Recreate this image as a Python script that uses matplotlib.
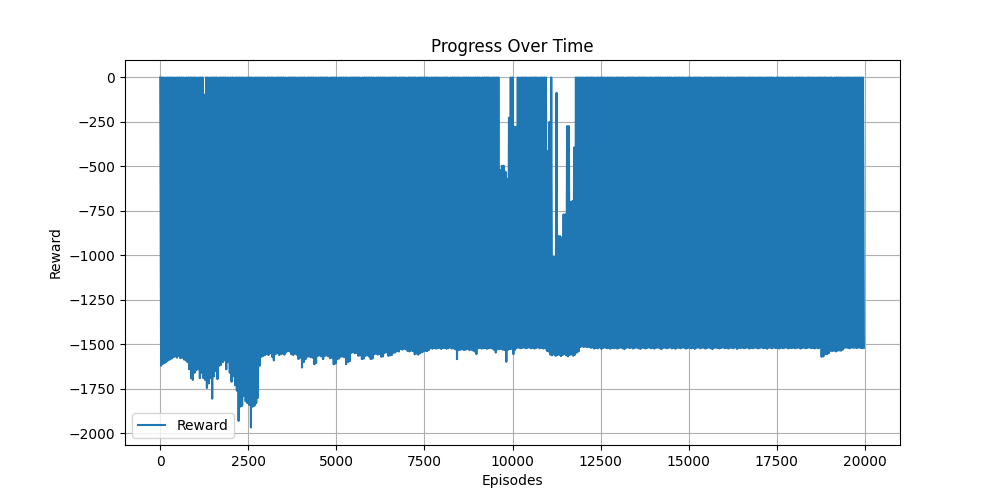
import numpy as np
import matplotlib
matplotlib.use("Agg")
import matplotlib.pyplot as plt

# Episodes are grouped into bins of 50; for each bin the highest and the
# lowest reward.
bin_width = 50

reward_low = [
    -1620, -1610, -1605, -1598, -1590, -1585, -1580, -1572, -1568, -1575, -1565, -1578, -1575, -1585, -1590, -1600, -1640, -1690, -1700, -1660,
    -1645, -1640, -1690, -1660, -1690, -1700, -1745, -1720, -1690, -1805, -1680, -1650, -1695, -1620, -1615, -1600, -1590, -1640, -1600, -1660,
    -1710, -1680, -1730, -1760, -1930, -1850, -1845, -1790, -1820, -1830, -1840, -1967, -1850, -1845, -1830, -1800, -1620, -1570, -1565, -1560,
    -1555, -1560, -1550, -1570, -1590, -1555, -1550, -1560, -1556, -1552, -1558, -1545, -1538, -1540, -1556, -1560, -1552, -1558, -1583, -1575,
    -1630, -1600, -1583, -1570, -1568, -1572, -1575, -1612, -1605, -1565, -1562, -1568, -1583, -1565, -1562, -1568, -1578, -1575, -1612, -1608,
    -1583, -1580, -1570, -1568, -1572, -1612, -1600, -1595, -1548, -1545, -1550, -1548, -1565, -1562, -1583, -1580, -1565, -1562, -1568, -1583,
    -1580, -1556, -1552, -1558, -1555, -1570, -1568, -1548, -1545, -1565, -1562, -1560, -1548, -1545, -1538, -1540, -1527, -1530, -1525, -1528,
    -1538, -1540, -1535, -1538, -1556, -1552, -1558, -1550, -1545, -1540, -1536, -1538, -1532, -1522, -1525, -1520, -1524, -1522, -1520, -1526,
    -1522, -1520, -1525, -1522, -1518, -1524, -1522, -1528, -1583, -1532, -1530, -1528, -1532, -1530, -1526, -1532, -1530, -1534, -1540, -1555,
    -1522, -1520, -1524, -1522, -1520, -1525, -1522, -1520, -1524, -1530, -1546, -1528, -1527, -1525, -1530, -1532, -1598, -1530, -1527, -1525,
    -1555, -1530, -1520, -1518, -1522, -1520, -1518, -1522, -1520, -1518, -1522, -1520, -1524, -1520, -1518, -1522, -1520, -1524, -1522, -1536,
    -1540, -1558, -1562, -1556, -1565, -1560, -1558, -1566, -1560, -1555, -1562, -1568, -1560, -1556, -1564, -1558, -1546, -1540, -1515, -1512,
    -1515, -1513, -1516, -1514, -1520, -1518, -1524, -1520, -1522, -1518, -1526, -1520, -1518, -1522, -1520, -1525, -1519, -1522, -1520, -1524,
    -1520, -1518, -1522, -1527, -1520, -1518, -1521, -1519, -1524, -1520, -1518, -1522, -1526, -1520, -1519, -1523, -1520, -1518, -1522, -1520,
    -1524, -1520, -1518, -1521, -1527, -1520, -1519, -1522, -1520, -1518, -1523, -1520, -1525, -1519, -1520, -1522, -1518, -1520, -1524, -1521,
    -1519, -1522, -1520, -1526, -1520, -1518, -1522, -1520, -1519, -1524, -1520, -1518, -1522, -1527, -1520, -1519, -1521, -1523, -1520, -1518,
    -1522, -1520, -1524, -1519, -1520, -1522, -1518, -1526, -1520, -1521, -1519, -1522, -1520, -1518, -1524, -1520, -1522, -1519, -1520, -1523,
    -1520, -1518, -1522, -1520, -1525, -1519, -1520, -1522, -1518, -1521, -1520, -1524, -1519, -1522, -1520, -1518, -1523, -1520, -1521, -1519,
    -1522, -1520, -1518, -1524, -1520, -1519, -1522, -1520, -1518, -1521, -1520, -1523, -1519, -1522, -1520, -1570, -1568, -1555, -1556, -1550,
    -1536, -1538, -1535, -1540, -1536, -1534, -1536, -1530, -1520, -1518, -1520, -1522, -1518, -1520, -1519, -1521, -1518, -1520, -1522, -1519,
]

reward_high = [
    -1, -1, -1, -2, -1, -1, -1, -1, -2, -1, -1, -1, -1, -1, -2, -1, -1, -1, -1, -1,
    -1, -2, -1, -1, -1, -97, -1, -1, -2, -1, -1, -1, -1, -2, -1, -1, -1, -1, -1, -2,
    -1, -1, -2, -1, -1, -1, -1, -1, -2, -1, -1, -1, -1, -2, -1, -1, -1, -1, -1, -1,
    -2, -1, -1, -1, -1, -2, -1, -1, -1, -1, -1, -1, -2, -1, -1, -1, -1, -1, -2, -1,
    -1, -1, -1, -2, -1, -1, -1, -1, -1, -2, -1, -1, -1, -1, -1, -1, -2, -1, -1, -1,
    -1, -2, -1, -1, -1, -1, -1, -2, -1, -1, -1, -1, -1, -1, -2, -1, -1, -1, -1, -1,
    -1, -1, -2, -1, -1, -1, -1, -1, -1, -2, -1, -1, -1, -1, -1, -2, -1, -1, -1, -1,
    -2, -1, -1, -1, -1, -1, -2, -1, -1, -1, -1, -1, -1, -2, -1, -1, -1, -1, -1, -2,
    -1, -1, -1, -1, -2, -1, -1, -1, -1, -1, -1, -2, -1, -1, -1, -1, -1, -2, -1, -1,
    -1, -1, -2, -1, -1, -1, -1, -1, -2, -1, -1, -1, -1, -520, -497, -497, -530, -570, -227, -1,
    -1, -278, -278, -1, -2, -1, -1, -1, -1, -2, -1, -1, -1, -1, -1, -2, -1, -1, -1, -1,
    -415, -250, -1, -1009, -1009, -87, -892, -892, -900, -770, -770, -274, -274, -700, -695, -394, -1, -1, -1, -1,
    -1, -2, -1, -1, -1, -1, -1, -2, -1, -1, -1, -1, -1, -2, -1, -1, -1, -1, -2, -1,
    -1, -1, -1, -1, -2, -1, -1, -1, -1, -1, -2, -1, -1, -1, -1, -1, -1, -2, -1, -1,
    -2, -1, -1, -1, -1, -1, -2, -1, -1, -1, -1, -2, -1, -1, -1, -1, -1, -1, -2, -1,
    -1, -1, -2, -1, -1, -1, -1, -1, -2, -1, -1, -1, -1, -1, -2, -1, -1, -1, -1, -1,
    -1, -2, -1, -1, -1, -1, -2, -1, -1, -1, -1, -1, -1, -2, -1, -1, -1, -1, -2, -1,
    -1, -1, -1, -2, -1, -1, -1, -1, -1, -2, -1, -1, -1, -1, -1, -2, -1, -1, -1, -1,
    -2, -1, -1, -1, -1, -1, -2, -1, -1, -1, -1, -1, -2, -1, -1, -1, -1, -1, -1, -2,
    -1, -1, -2, -1, -1, -1, -1, -1, -2, -1, -1, -1, -1, -2, -1, -1, -1, -1, -1, -1,
]

n_bins = len(reward_low)
bin_starts = np.arange(n_bins) * bin_width
episodes = np.empty(2 * n_bins)
rewards = np.empty(2 * n_bins)
episodes[0::2] = bin_starts
episodes[1::2] = bin_starts + bin_width / 2
rewards[0::2] = reward_high
rewards[1::2] = reward_low

fig, ax = plt.subplots(figsize=(10, 5), dpi=100)
ax.plot(episodes, rewards, label="Reward")
ax.set_xlim(-1000, 21000)
ax.set_title("Progress Over Time")
ax.set_xlabel("Episodes")
ax.set_ylabel("Reward")
ax.grid(True)
ax.legend(loc="lower left")
fig.savefig("out.png")
